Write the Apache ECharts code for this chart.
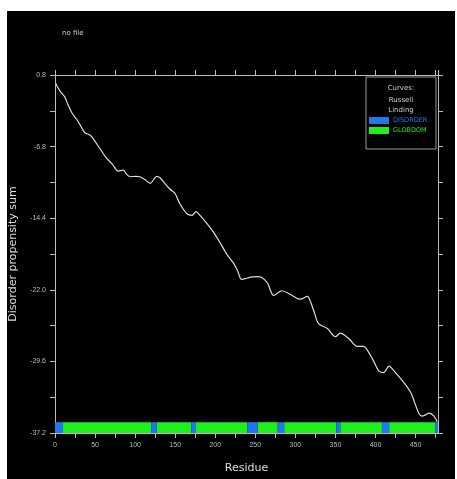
<!DOCTYPE html>
<html><head><meta charset="utf-8">
<script src="https://cdn.jsdelivr.net/npm/echarts@6/dist/echarts.min.js"></script>
<style>
html,body{margin:0;padding:0;background:#fff;}
#bg{position:absolute;left:7px;top:11px;width:448px;height:468px;background:#000;}
#chart{position:absolute;left:0;top:0;width:457px;height:479px;}
</style></head>
<body>
<div id="bg"></div>
<div id="chart"></div>
<script>
// Curve: residue positions and disorder propensity sum
const residues = [1,4,8,12,16,21,27,32,37,44,48,56,64,71,79,85,90,94,100,106,112,119,124,127,131,138,144,150,156,165,171,176,181,190,198,206,215,223,228,233,244,252,258,265,273,283,294,306,315,319,324,329,340,350,356,367,377,385,394,399,404,410,417,423,435,444,449,454,458,462,467,473,477];
const propensity = [-0.1,-0.6,-1.1,-1.5,-2.3,-3.2,-3.9,-4.6,-5.3,-5.6,-6.0,-7.0,-8.0,-8.6,-9.4,-9.3,-9.8,-10.0,-9.95,-10.0,-10.3,-10.7,-10.2,-9.95,-10.1,-10.8,-11.35,-11.8,-12.9,-13.96,-14.1,-13.7,-14.1,-15.0,-15.9,-17.0,-18.3,-19.2,-20.0,-20.9,-20.66,-20.6,-20.7,-21.25,-22.6,-22.1,-22.5,-23.0,-22.7,-23.3,-24.5,-25.6,-26.1,-26.98,-26.6,-27.2,-28.0,-28.0,-29.0,-29.8,-30.6,-30.8,-30.1,-30.6,-31.8,-32.9,-34.0,-35.1,-35.4,-35.3,-35.1,-35.4,-36.0];
// Domain bar segments
const disorderStart = [0,120,170,240,278,351,408,475];
const disorderEnd   = [10,127,176,253,286,356,417,478];
const globdomStart  = [10,127,176,253,286,356,417];
const globdomEnd    = [120,170,240,278,351,408,475];
// Axis tick labels
const xTickLabels = ['0','50','100','150','200','250','300','350','400','450'];
const yTickLabels = ['-37.2','-29.6','-22.0','-14.4','-6.8','0.8'];

const X_MAX = 478, Y_MIN = -37.2, Y_MAX = 0.8, BAR_TOP = -36.05;
const chart = echarts.init(document.getElementById('chart'), null, {renderer:'canvas'});
const lineData = residues.map((r,i)=>[r, propensity[i]]);
const segs = (s,e)=>s.map((v,i)=>[v,e[i]]);
function barRender(color){
  return function(params, api){
    const p0 = api.coord([api.value(0), BAR_TOP]);
    const p1 = api.coord([api.value(1), Y_MIN]);
    return {type:'rect', shape:{x:p0[0], y:p0[1], width:p1[0]-p0[0], height:p1[1]-p0[1]}, style:{fill:color}};
  };
}
const BLUE='#1f78ee', GREEN='#1ef01e', AX='#bbbbbb';
const xLab = v => { const k=Math.round(v/25); return k%2===0 && k/2 < xTickLabels.length ? xTickLabels[k/2] : ''; };
const yLab = v => { const k=Math.round((v-Y_MIN)/3.8); return k%2===0 ? yTickLabels[k/2] : ''; };
const baseAxis = {axisLine:{show:true,onZero:false,lineStyle:{color:AX,width:1}}, axisTick:{show:true,inside:false,length:5,lineStyle:{color:AX}}, splitLine:{show:false}};
chart.setOption({
  animation:false,
  backgroundColor:'transparent',
  grid:{left:55, right:19, top:75, bottom:39},
  title:{text:'no file', left:57, top:25, textStyle:{color:'#cccccc', fontSize:7, fontWeight:'normal', fontFamily:'DejaVu Sans'}},
  legend:{orient:'vertical', left:369, top:117, padding:0, itemWidth:20, itemHeight:7, itemGap:3, icon:'rect', z:60,
    textStyle:{fontSize:6.5, fontFamily:'DejaVu Sans', padding:[0,0,0,-1]},
    data:[{name:'DISORDER', textStyle:{color:BLUE}},{name:'GLOBDOM', textStyle:{color:GREEN}}]},
  xAxis:[
    Object.assign({type:'value', min:0, max:X_MAX, interval:25, position:'bottom', name:'Residue', nameLocation:'middle', nameGap:30,
      nameTextStyle:{color:'#dddddd', fontSize:11, fontFamily:'DejaVu Sans'},
      axisLabel:{color:AX, fontSize:7, margin:9, formatter:xLab, showMaxLabel:false}}, baseAxis),
    Object.assign({type:'value', min:0, max:X_MAX, interval:25, position:'top', axisLabel:{show:false}}, baseAxis)
  ],
  yAxis:[
    Object.assign({type:'value', min:Y_MIN, max:Y_MAX, interval:3.8, position:'left', name:'Disorder propensity sum', nameLocation:'middle', nameGap:36,
      nameTextStyle:{color:'#dddddd', fontSize:11, fontFamily:'DejaVu Sans'},
      axisLabel:{color:AX, fontSize:7, margin:9, formatter:yLab}}, baseAxis),
    Object.assign({type:'value', min:Y_MIN, max:Y_MAX, interval:3.8, position:'right', axisLabel:{show:false}}, baseAxis)
  ],
  graphic:[
    {type:'rect', shape:{x:366,y:77,width:70,height:72}, style:{fill:'#000', stroke:'#999', lineWidth:1}, z:50},
    {type:'text', x:401, y:88, style:{text:'Curves:', fill:'#cccccc', font:'7px DejaVu Sans', textAlign:'center', textVerticalAlign:'middle'}, z:51},
    {type:'text', x:401, y:100, style:{text:'Russell', fill:'#cccccc', font:'7px DejaVu Sans', textAlign:'center', textVerticalAlign:'middle'}, z:51},
    {type:'text', x:401, y:110, style:{text:'Linding', fill:'#cccccc', font:'7px DejaVu Sans', textAlign:'center', textVerticalAlign:'middle'}, z:51}
  ],
  series:[
    {name:'curve', type:'line', data:lineData, smooth:0.3, showSymbol:false, lineStyle:{color:'#dddddd', width:1.2}, z:3},
    {name:'GLOBDOM', type:'custom', data:segs(globdomStart,globdomEnd), renderItem:barRender(GREEN), itemStyle:{color:GREEN}, z:4},
    {name:'DISORDER', type:'custom', data:segs(disorderStart,disorderEnd), renderItem:barRender(BLUE), itemStyle:{color:BLUE}, z:4}
  ]
});
</script>
</body></html>
